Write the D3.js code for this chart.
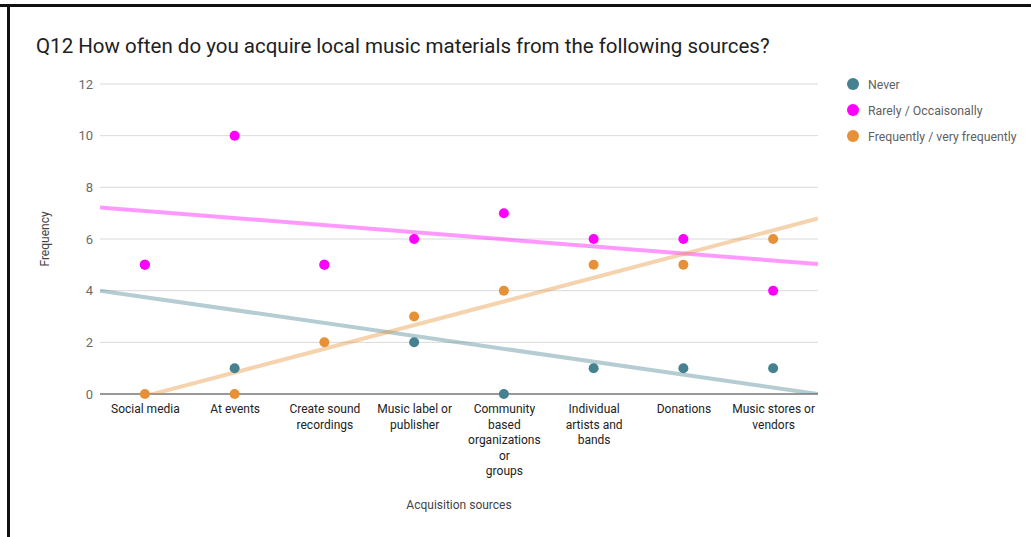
<!DOCTYPE html>
<html>
<head>
<meta charset="utf-8">
<script src="https://cdn.jsdelivr.net/npm/d3@7"></script>
<style>
  body { margin: 0; background: #fff; font-family: Roboto, "Noto Sans", sans-serif; }
  .tick line { display: none; }
  .domain { display: none; }
</style>
</head>
<body>
<script>
// Categories (tick labels, already broken into lines as in the original)
const categories = [
  ["Social media"],
  ["At events"],
  ["Create sound", "recordings"],
  ["Music label or", "publisher"],
  ["Community", "based", "organizations", "or", "groups"],
  ["Individual", "artists and", "bands"],
  ["Donations"],
  ["Music stores or", "vendors"]
];

const seriesNames = ["Never", "Rarely / Occaisonally", "Frequently / very frequently"];
const never = [5, 1, 5, 2, 0, 1, 1, 1];
const rarely = [5, 10, 5, 6, 7, 6, 6, 4];
const frequently = [0, 0, 2, 3, 4, 5, 5, 6];
const yTicks = [0, 2, 4, 6, 8, 10, 12];

const colors = ["#45818e", "#ff00ff", "#e69138"];
const seriesValues = [never, rarely, frequently];

const svgWidth = 1031, svgHeight = 537;
const margin = { top: 84, right: 213, bottom: 143, left: 100 };
const width = svgWidth - margin.left - margin.right;
const height = svgHeight - margin.top - margin.bottom;

let svg = d3.select("body").append("svg")
  .attr("width", svgWidth)
  .attr("height", svgHeight);

// frame lines (top and left) like the screenshot
svg.append("rect").attr("x", 0).attr("y", 4).attr("width", svgWidth).attr("height", 3).attr("fill", "#111");
svg.append("rect").attr("x", 7).attr("y", 4).attr("width", 3).attr("height", svgHeight).attr("fill", "#111");

svg.append("text")
  .attr("x", 36).attr("y", 53)
  .attr("font-size", 20.5)
  .attr("fill", "#212121")
  .text("Q12 How often do you acquire local music materials from the following sources?");

let chart = svg.append("g").attr("transform", `translate(${margin.left}, ${margin.top})`);

let x = d3.scaleLinear().domain([-0.5, categories.length - 0.5]).range([0, width]);
let y = d3.scaleLinear().domain([0, 12]).range([height, 0]);

// gridlines
chart.selectAll(".grid").data(yTicks.slice(1)).enter().append("line")
  .attr("x1", 0).attr("x2", width)
  .attr("y1", d => y(d)).attr("y2", d => y(d))
  .attr("stroke", "#d9d9d9").attr("stroke-width", 1);

// y axis
let yAxis = chart.append("g").call(d3.axisLeft(y).tickValues(yTicks).tickSize(0).tickPadding(7));
yAxis.selectAll("text").attr("font-size", 13).attr("fill", "#6b6b6b").attr("font-family", "Roboto");

// x axis
let xAxis = chart.append("g").attr("transform", `translate(0, ${height})`)
  .call(d3.axisBottom(x).tickValues(d3.range(categories.length)).tickSize(0).tickFormat(""));
xAxis.selectAll(".tick").each(function(d) {
  let t = d3.select(this).append("text")
    .attr("text-anchor", "middle")
    .attr("font-size", 12)
    .attr("fill", "#222")
    .attr("font-family", "Roboto");
  categories[d].forEach((line, i) => {
    t.append("tspan").attr("x", 0).attr("y", 19 + i * 15.5).text(line);
  });
});

chart.append("line")
  .attr("x1", 0).attr("x2", width)
  .attr("y1", height).attr("y2", height)
  .attr("stroke", "#333").attr("stroke-width", 1);

// linear trendlines (least squares over category index)
chart.append("clipPath").attr("id", "plotClip")
  .append("rect").attr("x", 0).attr("y", 0).attr("width", width).attr("height", height);

function fit(values) {
  let xs = values.map((v, i) => i);
  let mx = d3.mean(xs), my = d3.mean(values);
  let sxy = d3.sum(xs, (xi, i) => (xi - mx) * (values[i] - my));
  let sxx = d3.sum(xs, xi => (xi - mx) * (xi - mx));
  let slope = sxy / sxx;
  return xv => my + slope * (xv - mx);
}

seriesValues.forEach((vals, s) => {
  let f = fit(vals);
  let [x0, x1] = x.domain();
  chart.append("line")
    .attr("clip-path", "url(#plotClip)")
    .attr("x1", x(x0)).attr("y1", y(f(x0)))
    .attr("x2", x(x1)).attr("y2", y(f(x1)))
    .attr("stroke", colors[s])
    .attr("stroke-opacity", 0.4)
    .attr("stroke-width", 4);
});

// points
seriesValues.forEach((vals, s) => {
  chart.selectAll(".pt" + s).data(vals).enter().append("circle")
    .attr("cx", (d, i) => x(i))
    .attr("cy", d => y(d))
    .attr("r", 5)
    .attr("fill", colors[s]);
});

// axis titles
chart.append("text")
  .attr("transform", `translate(-51, ${height / 2}) rotate(-90)`)
  .attr("text-anchor", "middle")
  .attr("font-size", 12)
  .attr("fill", "#444")
  .text("Frequency");

chart.append("text")
  .attr("x", width / 2).attr("y", height + 115)
  .attr("text-anchor", "middle")
  .attr("font-size", 12)
  .attr("fill", "#444")
  .text("Acquisition sources");

// legend
let legend = svg.append("g").attr("transform", "translate(853, 84)");
seriesNames.forEach((name, i) => {
  legend.append("circle").attr("cx", 0).attr("cy", i * 26).attr("r", 6).attr("fill", colors[i]);
  legend.append("text").attr("x", 15).attr("y", i * 26 + 4.5)
    .attr("font-size", 12.3).attr("fill", "#5f5f5f").text(name);
});
</script>
</body>
</html>
